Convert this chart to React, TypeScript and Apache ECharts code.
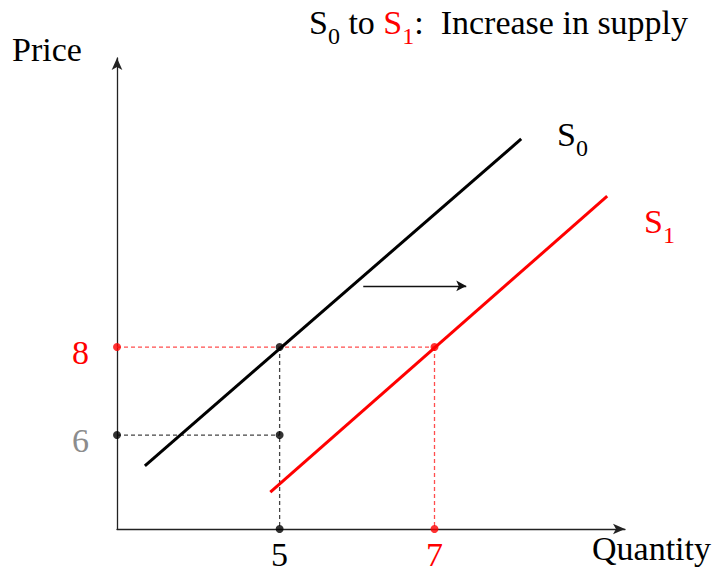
import React, { useEffect, useRef } from "react";
import * as echarts from "echarts";

// Axis ranges (quantity on x, price on y)
const qRange = [2.9, 9.46];
const pRange = [3.864, 14.57];

// Tick values shown on each axis
const qTicks = [5, 7];
const pTicks = [6, 8];

// Supply curves: [quantity, price] end points
const supplyS0 = [
  [3.26, 5.3],
  [8.12, 12.73],
];
const supplyS1 = [
  [4.88, 4.7],
  [9.23, 11.43],
];

// Shift arrow between the curves
const shiftArrow = [
  [6.08, 9.39],
  [7.41, 9.39],
];

// Highlighted points
const redPoints = [
  [2.9, 8],
  [7, 8],
  [7, 3.864],
];
const blackPoints = [
  [5, 8],
  [2.9, 6],
  [5, 6],
  [5, 3.864],
];

const SERIF = "Liberation Serif";
const RED = "#ff0000";
const FS = 34;
const SUB = 24;

// Main glyphs sit in a tall line box; subscripts hug its bottom edge
const main = (fill: string) => ({ fontFamily: SERIF, fontSize: FS, lineHeight: 52, fill });
const sub = (fill: string) => ({
  fontFamily: SERIF,
  fontSize: SUB,
  lineHeight: SUB,
  verticalAlign: "bottom",
  fill,
});

export default function App() {
  const ref = useRef<HTMLDivElement>(null);

  useEffect(() => {
    if (!ref.current) return;
    const chart = echarts.init(ref.current, undefined, { renderer: "svg" });

    const dashed = (data: number[][], color: string) => ({
      type: "line",
      data,
      symbol: "none",
      silent: true,
      z: 1,
      lineStyle: { color, width: 1.3, type: [4, 3] },
    });

    chart.setOption({
      animation: false,
      backgroundColor: "#fff",
      grid: { left: 117, right: 90, top: 58, bottom: 43 },
      xAxis: {
        type: "value",
        min: qRange[0],
        max: qRange[1],
        splitLine: { show: false },
        axisLine: {
          onZero: false,
          symbol: ["none", "arrow"],
          symbolSize: [8, 12],
          lineStyle: { color: "#222", width: 1.3 },
        },
        axisTick: { show: false },
        axisLabel: {
          customValues: qTicks,
          margin: 8,
          fontFamily: SERIF,
          fontSize: FS,
          formatter: (v: number) => (v === 7 ? `{r|${v}}` : `{k|${v}}`),
          rich: {
            r: { color: RED, fontFamily: SERIF, fontSize: FS },
            k: { color: "#000", fontFamily: SERIF, fontSize: FS },
          },
        },
      },
      yAxis: {
        type: "value",
        min: pRange[0],
        max: pRange[1],
        splitLine: { show: false },
        axisLine: {
          show: true,
          onZero: false,
          symbol: ["none", "arrow"],
          symbolSize: [8, 12],
          lineStyle: { color: "#222", width: 1.3 },
        },
        axisTick: { show: false },
        axisLabel: {
          customValues: pTicks,
          margin: 28,
          padding: [10, 0, 0, 0],
          fontFamily: SERIF,
          fontSize: FS,
          formatter: (v: number) => (v === 8 ? `{r|${v}}` : `{g|${v}}`),
          rich: {
            r: { color: RED, fontFamily: SERIF, fontSize: FS },
            g: { color: "#8c8c8c", fontFamily: SERIF, fontSize: FS },
          },
        },
      },
      series: [
        dashed([redPoints[0], redPoints[1]], "#ff4d4d"),
        dashed([redPoints[1], redPoints[2]], "#ff4d4d"),
        dashed([blackPoints[1], blackPoints[2]], "#444"),
        dashed([blackPoints[0], blackPoints[3]], "#444"),
        {
          type: "line",
          data: supplyS0,
          symbol: "none",
          silent: true,
          z: 2,
          lineStyle: { color: "#000", width: 3 },
        },
        {
          type: "line",
          data: supplyS1,
          symbol: "none",
          silent: true,
          z: 2,
          lineStyle: { color: RED, width: 3 },
        },
        {
          type: "line",
          data: [],
          silent: true,
          markLine: {
            silent: true,
            symbol: ["none", "arrow"],
            symbolSize: [8, 10],
            label: { show: false },
            lineStyle: { color: "#111", width: 1.3, type: "solid" },
            data: [
              [
                { coord: shiftArrow[0] },
                { coord: shiftArrow[1] },
              ],
            ],
          },
        },
        {
          type: "scatter",
          data: redPoints,
          symbolSize: 8,
          silent: true,
          z: 5,
          itemStyle: { color: RED },
        },
        {
          type: "scatter",
          data: blackPoints,
          symbolSize: 8,
          silent: true,
          z: 5,
          itemStyle: { color: "#000" },
        },
      ],
      graphic: [
        {
          type: "text",
          left: 12,
          top: 32,
          style: {
            text: "Price",
            font: `${FS}px ${SERIF}`,
            fill: "#000",
          },
        },
        {
          type: "text",
          left: 592,
          top: 531,
          style: {
            text: "Quantity",
            font: `${FS}px ${SERIF}`,
            fill: "#000",
          },
        },
        {
          type: "text",
          left: 309,
          top: 5,
          style: {
            font: `${FS}px ${SERIF}`,
            text: "{k|S}{ks|0}{k| to }{r|S}{rs|1}{k|:  Increase in supply}",
            rich: { k: main("#000"), ks: sub("#000"), r: main(RED), rs: sub(RED) },
          },
        },
        {
          type: "text",
          left: 557,
          top: 117,
          style: {
            font: `${FS}px ${SERIF}`,
            text: "{k|S}{ks|0}",
            rich: { k: main("#000"), ks: sub("#000") },
          },
        },
        {
          type: "text",
          left: 644,
          top: 204,
          style: {
            font: `${FS}px ${SERIF}`,
            text: "{r|S}{rs|1}",
            rich: { r: main(RED), rs: sub(RED) },
          },
        },
      ],
    });

    return () => chart.dispose();
  }, []);

  return (
    <div
      ref={ref}
      style={{ position: "absolute", left: 0, top: 0, width: 715, height: 572 }}
    />
  );
}
